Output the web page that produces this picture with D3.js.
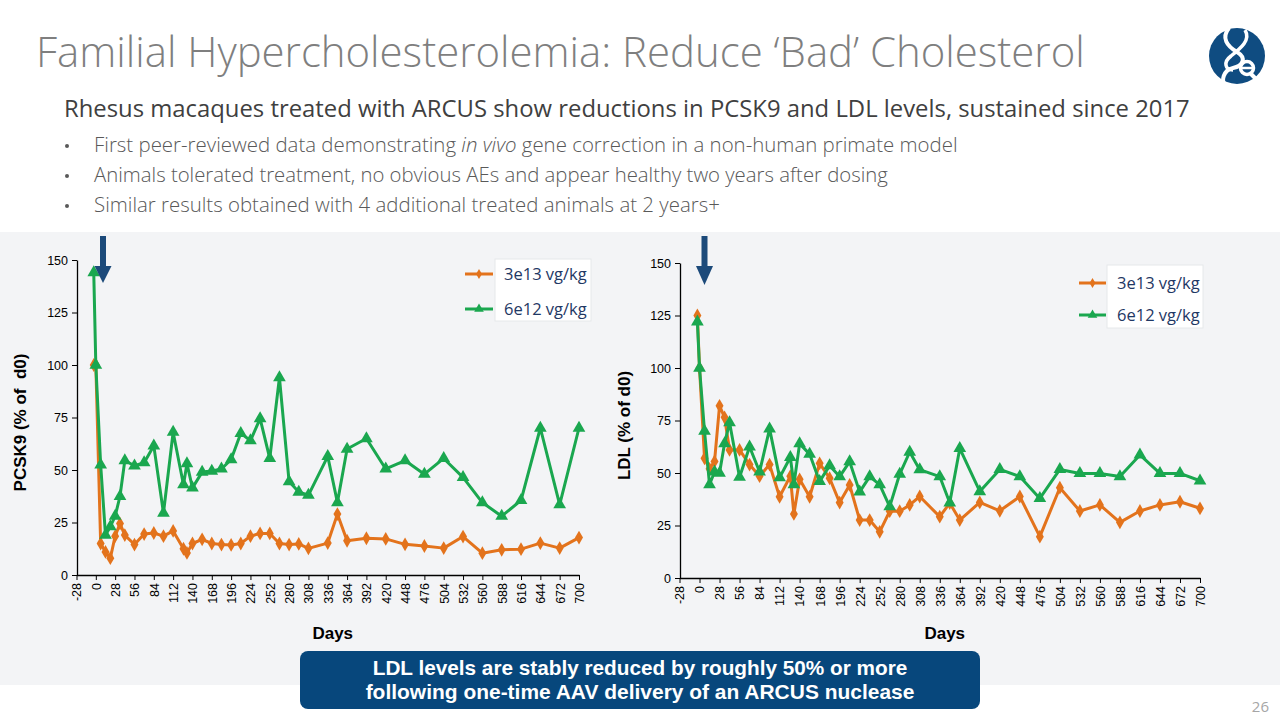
<!DOCTYPE html>
<html>
<head>
<meta charset="utf-8">
<script src="https://cdn.jsdelivr.net/npm/d3@7"></script>
<style>
  html, body { margin: 0; padding: 0; background: #ffffff; }
  svg { display: block; }
</style>
</head>
<body>
<svg id="chart" width="1280" height="720"></svg>
<script>
// ---------------- DATA ----------------
const days = [-3, 0, 7, 14, 21, 28, 35, 42, 56, 70, 84, 98, 112, 127, 132, 140, 154, 168, 182, 196, 210, 224, 238, 252, 266, 280, 294, 308, 336, 350, 364, 392, 420, 448, 476, 504, 532, 560, 588, 616, 644, 672, 700];

const pcsk9_3e13 = [100, 100, 15, 11, 8, 18.5, 24.5, 19, 14.5, 19.5, 20, 18.5, 21, 12.5, 10.5, 15, 17, 15, 14.5, 14.3, 15, 18.5, 19.8, 19.8, 15, 14.5, 14.8, 12.7, 15.2, 29, 16.3, 17.5, 17.2, 14.6, 13.8, 12.8, 18.3, 10.4, 12, 12.3, 15.2, 12.8, 17.8];
const pcsk9_6e12 = [144, 100, 52.5, 19, 23, 28, 37.5, 54.5, 52, 53.5, 61.5, 29.5, 68, 43, 53, 41.5, 49, 49.5, 50.5, 55, 67.5, 64, 74.5, 55.5, 94, 44.5, 39.5, 38, 56.5, 34.5, 60, 65, 50.5, 54.5, 48, 55.5, 46.5, 34.5, 28, 35.5, 70, 33.5, 70];

const ldl_3e13 = [125, 100, 57, 52, 55.5, 82, 76.5, 61, 61, 54, 48.5, 54, 38.7, 48.5, 30.5, 47, 38.7, 54.6, 47.5, 35.9, 44.3, 27.6, 27.6, 22, 31.8, 31.8, 34.8, 38.8, 29.2, 35.7, 27.6, 36, 32, 38.8, 19.7, 43, 31.9, 34.8, 26.5, 31.9, 34.8, 36.3, 33.2];
const ldl_6e12 = [122, 100, 70, 44.5, 50.5, 50, 64, 74, 48, 62.5, 50.6, 71, 47.8, 57.5, 44.5, 64, 59, 46, 53.5, 48.3, 55.4, 41, 48.3, 44.5, 34, 49.5, 60, 51.6, 48.3, 35.8, 61.7, 41.2, 51.7, 48.3, 37.9, 51.7, 49.8, 49.8, 48.3, 58.6, 49.8, 49.8, 46.3];

const xTickValues = [-28, 0, 28, 56, 84, 112, 140, 168, 196, 224, 252, 280, 308, 336, 364, 392, 420, 448, 476, 504, 532, 560, 588, 616, 644, 672, 700];
const yTickValues = [0, 25, 50, 75, 100, 125, 150];

const seriesNames = ["3e13 vg/kg", "6e12 vg/kg"];
const seriesColors = ["#e3731c", "#1aa74f"];

const titleText = "Familial Hypercholesterolemia: Reduce \u2018Bad\u2019 Cholesterol";
const subtitleText = "Rhesus macaques treated with ARCUS show reductions in PCSK9 and LDL levels, sustained since 2017";
const calloutLines = ["LDL levels are stably reduced by roughly 50% or more", "following one-time AAV delivery of an ARCUS nuclease"];

// ---------------- DRAWING ----------------
const svg = d3.select("#chart");
const sansLight = "'Open Sans', 'Noto Sans', 'DejaVu Sans', sans-serif";
const arial = "'Liberation Sans', Arial, Helvetica, sans-serif";

function fitWidth(sel, target) {
  const fs = parseFloat(sel.attr("font-size"));
  const w = sel.node().getComputedTextLength();
  if (w > 0) sel.attr("font-size", (fs * target / w).toFixed(2));
  return sel;
}

// light grey panel behind the charts
svg.append("rect").attr("x", 0).attr("y", 232).attr("width", 1280).attr("height", 453).attr("fill", "#f3f4f6");

// title
fitWidth(svg.append("text").attr("x", 36).attr("y", 67).attr("font-family", sansLight)
  .attr("font-weight", 300).attr("font-size", 40).attr("fill", "#7f7f7f").text(titleText), 1049);

// subtitle
fitWidth(svg.append("text").attr("x", 64).attr("y", 117).attr("font-family", sansLight)
  .attr("font-size", 22).attr("fill", "#404040").text(subtitleText), 1126);

// bullets
const bulletY = [152, 182, 212];
const bulletWidths = [864, 794, 626];
const b1 = svg.append("text").attr("x", 94).attr("y", bulletY[0]).attr("font-family", sansLight)
  .attr("font-weight", 300).attr("font-size", 18).attr("fill", "#595959");
b1.append("tspan").text("First peer-reviewed data demonstrating ");
b1.append("tspan").attr("font-style", "italic").text("in vivo");
b1.append("tspan").text(" gene correction in a non-human primate model");
fitWidth(b1, bulletWidths[0]);
fitWidth(svg.append("text").attr("x", 94).attr("y", bulletY[1]).attr("font-family", sansLight)
  .attr("font-weight", 300).attr("font-size", 18).attr("fill", "#595959")
  .text("Animals tolerated treatment, no obvious AEs and appear healthy two years after dosing"), bulletWidths[1]);
fitWidth(svg.append("text").attr("x", 94).attr("y", bulletY[2]).attr("font-family", sansLight)
  .attr("font-weight", 300).attr("font-size", 18).attr("fill", "#595959")
  .text("Similar results obtained with 4 additional treated animals at 2 years+"), bulletWidths[2]);
bulletY.forEach(y => svg.append("circle").attr("cx", 67).attr("cy", y - 6).attr("r", 2).attr("fill", "#595959"));

// logo
const logo = svg.append("g").attr("transform", "translate(1237,56)");
logo.append("circle").attr("r", 28).attr("fill", "#0f4c81");
logo.append("path").attr("d", "M-8,-28 C-16,-18 -10,-10 0,-4 C10,2 6,10 -4,12 C-14,14 -16,26 -12,28")
  .attr("fill", "none").attr("stroke", "#ffffff").attr("stroke-width", 4);
logo.append("path").attr("d", "M8,-26 C14,-16 4,-8 -6,0 C-14,6 -12,14 -4,14")
  .attr("fill", "none").attr("stroke", "#ffffff").attr("stroke-width", 3.5);
logo.append("circle").attr("cx", 10).attr("cy", 12).attr("r", 6.5).attr("fill", "none").attr("stroke", "#ffffff").attr("stroke-width", 3.5);
logo.append("path").attr("d", "M4,12 L16,12").attr("stroke", "#ffffff").attr("stroke-width", 2.5);
logo.append("path").attr("d", "M14,18 L22,26").attr("stroke", "#ffffff").attr("stroke-width", 4);

function drawChart(cfg) {
  const x = d3.scaleLinear().domain([-28, 700]).range([cfg.x0, cfg.x1]);
  const y = d3.scaleLinear().domain([0, 150]).range([cfg.yBot, cfg.yTop]);
  const g = svg.append("g");

  const xAxis = g.append("g").attr("transform", `translate(0,${cfg.yBot})`)
    .call(d3.axisBottom(x).tickValues(xTickValues).tickFormat(d => String(d)).tickSize(5).tickSizeOuter(0).tickPadding(3));
  xAxis.selectAll("text").attr("transform", "rotate(-90)").attr("text-anchor", "end")
    .attr("x", -8).attr("y", 0).attr("dy", "0.35em");
  const yAxis = g.append("g").attr("transform", `translate(${cfg.x0 + 0.5},0)`)
    .call(d3.axisLeft(y).tickValues(yTickValues).tickFormat(d => String(d)).tickSize(5).tickSizeOuter(0).tickPadding(4));
  [xAxis, yAxis].forEach(a => {
    a.selectAll("text").attr("font-family", arial).attr("font-size", 12.5).attr("fill", "#000");
    a.selectAll("line").attr("stroke", "#000");
    a.select(".domain").attr("stroke", "#000").attr("stroke-width", 1.3);
  });

  // axis titles
  g.append("text").attr("transform", `translate(${cfg.yLabelX},${(cfg.yTop + cfg.yBot) / 2 + 5}) rotate(-90)`)
    .attr("text-anchor", "middle").attr("font-family", arial).attr("font-weight", "bold")
    .attr("font-size", 17).attr("fill", "#000").attr("xml:space", "preserve").text(cfg.yLabel);
  g.append("text").attr("x", (cfg.x0 + cfg.x1) / 2 + 5).attr("y", 639).attr("text-anchor", "middle")
    .attr("font-family", arial).attr("font-weight", "bold").attr("font-size", 17).attr("fill", "#000").text("Days");

  // series
  const line = d3.line().x(d => x(d[0])).y(d => y(d[1]));
  const symbols = [d3.symbol().type(d3.symbolDiamond).size(55), d3.symbol().type(d3.symbolTriangle).size(70)];
  cfg.series.forEach((vals, i) => {
    const pts = days.map((d, k) => [d, vals[k]]);
    g.append("path").datum(pts).attr("d", line).attr("fill", "none")
      .attr("stroke", seriesColors[i]).attr("stroke-width", 3).attr("stroke-linejoin", "round");
    g.selectAll(null).data(pts).enter().append("path")
      .attr("transform", d => `translate(${x(d[0])},${y(d[1])})`)
      .attr("d", symbols[i]).attr("fill", seriesColors[i]);
  });

  // dosing arrow
  const ax = cfg.arrowX;
  g.append("rect").attr("x", ax - 3).attr("y", 236).attr("width", 6).attr("height", 32).attr("fill", "#1c4a7a");
  g.append("path").attr("d", `M${ax - 8.5},${266} L${ax + 8.5},${266} L${ax},${cfg.arrowTip} Z`).attr("fill", "#1c4a7a");

  // legend
  const L = cfg.legend;
  g.append("rect").attr("x", L.x).attr("y", L.y).attr("width", L.w).attr("height", L.h)
    .attr("fill", "#ffffff").attr("stroke", "#e6e8ea").attr("stroke-width", 1);
  seriesNames.forEach((name, i) => {
    const ly = L.rowY[i];
    g.append("line").attr("x1", L.lineX0).attr("x2", L.lineX1).attr("y1", ly).attr("y2", ly)
      .attr("stroke", seriesColors[i]).attr("stroke-width", 3);
    g.append("path").attr("transform", `translate(${(L.lineX0 + L.lineX1) / 2},${ly})`)
      .attr("d", d3.symbol().type(i === 0 ? d3.symbolDiamond : d3.symbolTriangle).size(i === 0 ? 30 : 40))
      .attr("fill", seriesColors[i]);
    g.append("text").attr("x", L.textX).attr("y", ly + 6).attr("font-family", sansLight)
      .attr("font-size", 16.5).attr("fill", "#1f3864").text(name);
  });
}

drawChart({
  x0: 76.5, x1: 579, yTop: 260, yBot: 575,
  yLabel: "PCSK9 (% of  d0)", yLabelX: 26,
  series: [pcsk9_3e13, pcsk9_6e12],
  arrowX: 103, arrowTip: 283,
  legend: { x: 495, y: 259, w: 96, h: 62, rowY: [274, 309], lineX0: 465, lineX1: 493, textX: 504 }
});
drawChart({
  x0: 679.5, x1: 1200, yTop: 263, yBot: 578,
  yLabel: "LDL (% of d0)", yLabelX: 630,
  series: [ldl_3e13, ldl_6e12],
  arrowX: 704.5, arrowTip: 285,
  legend: { x: 1107, y: 265, w: 96, h: 63, rowY: [283, 315], lineX0: 1079, lineX1: 1106, textX: 1117 }
});

// callout box
svg.append("rect").attr("x", 300).attr("y", 651).attr("width", 680).attr("height", 58).attr("rx", 8)
  .attr("fill", "#07477c");
const cw = [535, 549];
calloutLines.forEach((t, i) => {
  const txt = svg.append("text").attr("x", 0).attr("y", 0).attr("text-anchor", "middle")
    .attr("font-family", arial).attr("font-weight", "bold").attr("font-size", 19.5)
    .attr("fill", "#ffffff").text(t);
  const w = txt.node().getComputedTextLength();
  txt.attr("transform", `translate(640,${675 + i * 24}) scale(${(cw[i] / w).toFixed(4)},1)`);
});

// page number
svg.append("text").attr("x", 1269).attr("y", 712).attr("text-anchor", "end").attr("font-family", sansLight)
  .attr("font-size", 15).attr("fill", "#a6a6a6").text("26");
</script>
</body>
</html>
